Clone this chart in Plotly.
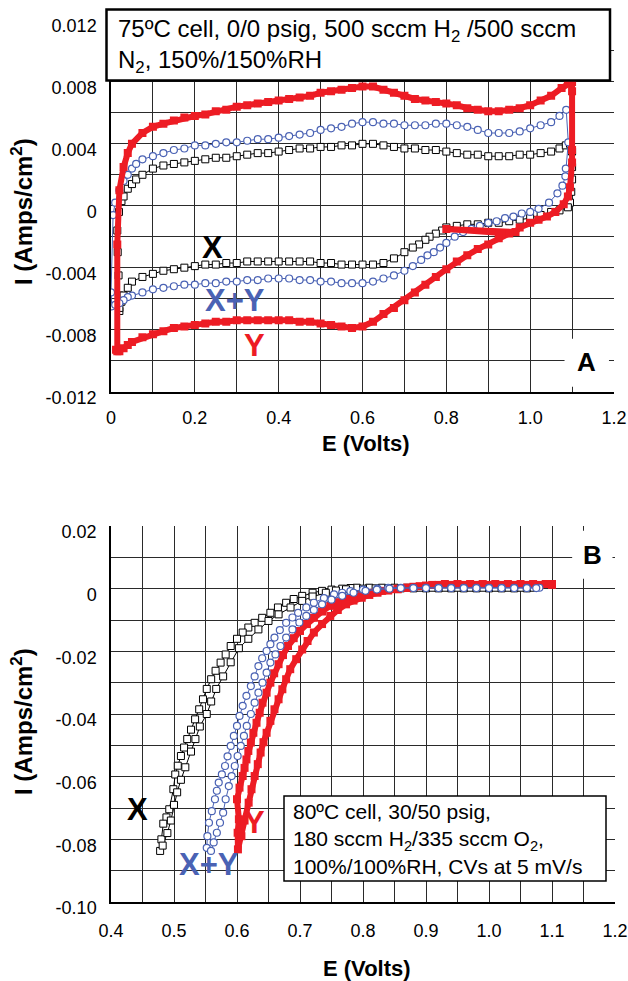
import plotly.graph_objects as go

# ---------------- Panel A data (E in V, I in A/cm2) ----------------
a_x_E = [0.02, 0.02, 0.018, 0.016, 0.015, 0.019, 0.025, 0.03, 0.04, 0.05, 0.06, 0.075, 0.1, 0.125, 0.15, 0.175,
         0.2, 0.225, 0.25, 0.275, 0.3, 0.325, 0.35, 0.375, 0.4, 0.425, 0.45, 0.475, 0.5, 0.525, 0.55, 0.575,
         0.6, 0.625, 0.65, 0.675, 0.7, 0.725, 0.75, 0.775, 0.8, 0.825, 0.85, 0.875, 0.9, 0.925, 0.95, 0.975,
         1.0, 1.025, 1.05, 1.07, 1.085, 1.095, 1.1, 1.1, 1.1, 1.098, 1.095, 1.09, 1.07, 1.05, 1.025, 1.0,
         0.975, 0.95, 0.925, 0.9, 0.875, 0.85, 0.825, 0.8, 0.79, 0.775, 0.76, 0.75, 0.735, 0.72, 0.7, 0.675,
         0.65, 0.625, 0.6, 0.575, 0.55, 0.525, 0.5, 0.475, 0.45, 0.425, 0.4, 0.375, 0.35, 0.325, 0.3, 0.275,
         0.25, 0.225, 0.2, 0.175, 0.15, 0.125, 0.1, 0.075, 0.05, 0.04, 0.03, 0.025, 0.02]
a_x_I = [-0.0068, -0.0058, -0.0045, -0.0030, -0.0016, -0.0004, 0.0003, 0.0006, 0.0011, 0.0014, 0.0017, 0.0020,
         0.0024, 0.0026, 0.0027, 0.0028, 0.0029, 0.0030, 0.0031, 0.0031, 0.0032, 0.0033, 0.0034, 0.0034, 0.0035,
         0.0036, 0.0037, 0.0037, 0.0038, 0.0038, 0.0039, 0.0039, 0.0040, 0.0040, 0.0039, 0.0038, 0.0037, 0.0037,
         0.0036, 0.0036, 0.0035, 0.0034, 0.0033, 0.0033, 0.0032, 0.0032, 0.0032, 0.0033, 0.0033, 0.0034, 0.0035,
         0.0037, 0.0039, 0.0040, 0.0035, 0.0025, 0.0017, 0.0009, 0.0002, -0.0001, -0.0003, -0.0004, -0.0006,
         -0.0008, -0.0009, -0.0010, -0.0011, -0.0011, -0.0012, -0.0012, -0.0013, -0.0014, -0.0016, -0.0018,
         -0.0020, -0.0022, -0.0025, -0.0027, -0.0030, -0.0034, -0.0037, -0.0038, -0.0038, -0.0038, -0.0038,
         -0.0037, -0.0037, -0.0036, -0.0036, -0.0036, -0.0036, -0.0036, -0.0036, -0.0036, -0.0037, -0.0037,
         -0.0038, -0.0038, -0.0039, -0.0040, -0.0041, -0.0042, -0.0044, -0.0046, -0.0049, -0.0053, -0.0058,
         -0.0062, -0.0066]

a_xy_E = [0.002, 0.0, 0.005, 0.01, 0.02, 0.03, 0.04, 0.05, 0.06, 0.075, 0.1, 0.125, 0.15, 0.175, 0.2, 0.225,
          0.25, 0.275, 0.3, 0.325, 0.35, 0.375, 0.4, 0.425, 0.45, 0.475, 0.5, 0.525, 0.55, 0.575, 0.6, 0.625,
          0.65, 0.675, 0.7, 0.725, 0.75, 0.775, 0.8, 0.825, 0.85, 0.875, 0.9, 0.925, 0.95, 0.975, 1.0, 1.025,
          1.05, 1.07, 1.086, 1.091, 1.085, 1.084, 1.077, 1.065, 1.045, 1.02, 1.0, 0.98, 0.96, 0.94, 0.92, 0.9,
          0.88, 0.86, 0.84, 0.82, 0.8, 0.785, 0.77, 0.755, 0.74, 0.72, 0.7, 0.675, 0.65, 0.625, 0.6, 0.575,
          0.55, 0.525, 0.5, 0.475, 0.45, 0.425, 0.4, 0.375, 0.35, 0.325, 0.3, 0.275, 0.25, 0.225, 0.2, 0.175,
          0.15, 0.125, 0.1, 0.075, 0.05, 0.04, 0.03, 0.02, 0.01]
a_xy_I = [-0.0065, -0.0056, -0.0006, 0.0002, 0.0010, 0.0016, 0.0020, 0.0024, 0.0027, 0.0030, 0.0032, 0.0034,
          0.0036, 0.0037, 0.0039, 0.0039, 0.0040, 0.0041, 0.0041, 0.0042, 0.0043, 0.0043, 0.0044, 0.0045, 0.0046,
          0.0047, 0.0049, 0.0050, 0.0051, 0.0053, 0.0054, 0.0054, 0.0053, 0.0053, 0.0052, 0.0052, 0.0052, 0.0053,
          0.0053, 0.0052, 0.0051, 0.0049, 0.0047, 0.0047, 0.0047, 0.0048, 0.0050, 0.0052, 0.0054, 0.0058, 0.0062,
          0.0041, 0.0024, 0.0019, 0.0013, 0.0008, 0.0002, -0.0002, -0.0004, -0.0005, -0.0007, -0.0008, -0.0010,
          -0.0011, -0.0013, -0.0015, -0.0017, -0.0020, -0.0024, -0.0027, -0.0030, -0.0032, -0.0035, -0.0039,
          -0.0042, -0.0045, -0.0047, -0.0049, -0.0050, -0.0050, -0.0050, -0.0049, -0.0049, -0.0048, -0.0048,
          -0.0047, -0.0047, -0.0047, -0.0048, -0.0048, -0.0049, -0.0049, -0.0050, -0.0050, -0.0051, -0.0051,
          -0.0052, -0.0053, -0.0054, -0.0056, -0.0058, -0.0059, -0.0061, -0.0063, -0.0064]

a_y_E = [0.015, 0.015, 0.02, 0.03, 0.04, 0.05, 0.075, 0.1, 0.125, 0.15, 0.175, 0.2, 0.225, 0.25, 0.275, 0.3,
         0.325, 0.35, 0.375, 0.4, 0.425, 0.45, 0.475, 0.5, 0.525, 0.55, 0.575, 0.6, 0.625, 0.65, 0.675, 0.7,
         0.725, 0.75, 0.775, 0.8, 0.825, 0.85, 0.875, 0.9, 0.925, 0.95, 0.975, 1.0, 1.025, 1.05, 1.075, 1.09,
         1.1, 1.1, 1.1, 1.1, 1.095, 1.09, 1.08, 1.06, 1.04, 1.02, 1.0, 0.975, 0.965, 0.8, 0.95, 0.925, 0.9,
         0.875, 0.85, 0.825, 0.8, 0.775, 0.75, 0.725, 0.7, 0.675, 0.65, 0.625, 0.6, 0.575, 0.55, 0.525, 0.5,
         0.475, 0.45, 0.425, 0.4, 0.375, 0.35, 0.325, 0.3, 0.275, 0.25, 0.225, 0.2, 0.175, 0.15, 0.125, 0.1,
         0.075, 0.05, 0.04, 0.03, 0.02, 0.012]
a_y_I = [-0.0094, -0.0025, 0.0010, 0.0025, 0.0034, 0.0040, 0.0047, 0.0051, 0.0053, 0.0055, 0.0057, 0.0058,
         0.0059, 0.0061, 0.0062, 0.0064, 0.0065, 0.0066, 0.0067, 0.0068, 0.0069, 0.0070, 0.0071, 0.0073, 0.0074,
         0.0075, 0.0076, 0.0077, 0.0077, 0.0075, 0.0073, 0.0071, 0.0069, 0.0068, 0.0067, 0.0066, 0.0065, 0.0063,
         0.0062, 0.0061, 0.0061, 0.0062, 0.0063, 0.0065, 0.0068, 0.0071, 0.0076, 0.0079, 0.0080, 0.0074, 0.0036,
         0.0028, 0.0012, 0.0006, 0.0001, -0.0004, -0.0007, -0.0009, -0.0011, -0.0014, -0.0017, -0.0015, -0.0018,
         -0.0021, -0.0025, -0.0028, -0.0032, -0.0036, -0.0041, -0.0046, -0.0051, -0.0056, -0.0061, -0.0066,
         -0.0070, -0.0075, -0.0078, -0.0079, -0.0078, -0.0077, -0.0076, -0.0075, -0.0075, -0.0074, -0.0074,
         -0.0074, -0.0074, -0.0074, -0.0074, -0.0075, -0.0075, -0.0076, -0.0077, -0.0078, -0.0079, -0.0081,
         -0.0083, -0.0085, -0.0088, -0.0090, -0.0092, -0.0094, -0.0093]

# ---------------- Panel B data ----------------
b_x_E = [1.07, 1.05, 1.03, 1.01, 0.99, 0.97, 0.95, 0.93, 0.91, 0.89, 0.87, 0.85, 0.83, 0.81, 0.79,
         0.78, 0.767, 0.75, 0.735, 0.72, 0.7035, 0.69, 0.678, 0.665, 0.653, 0.64, 0.628, 0.618, 0.609, 0.60,
         0.59, 0.582, 0.574, 0.566, 0.559, 0.552, 0.546, 0.54, 0.5335, 0.527, 0.521, 0.516, 0.511, 0.506,
         0.502, 0.499, 0.4925, 0.488, 0.483, 0.480, 0.478,
         0.482, 0.4895, 0.495, 0.500, 0.505, 0.511, 0.518, 0.527, 0.534, 0.541, 0.552, 0.559, 0.567, 0.578,
         0.590, 0.603, 0.618, 0.634, 0.650, 0.666, 0.685, 0.7035, 0.72, 0.741, 0.757, 0.773, 0.80,
         0.82, 0.84, 0.86, 0.88, 0.90, 0.92, 0.94, 0.96, 0.98, 1.00, 1.02, 1.04, 1.06]
b_x_I = [0.0003, 0.0003, 0.0003, 0.0003, 0.0003, 0.0003, 0.0003, 0.0003, 0.0003, 0.0003, 0.0003, 0.0003,
         0.0003, 0.0003, 0.0003,
         0.0002, 0.0, -0.0003, -0.0007, -0.0013, -0.0023, -0.0033, -0.0045, -0.0060, -0.0077, -0.0093, -0.0109,
         -0.0124, -0.0140, -0.0160, -0.0183, -0.0210, -0.0236, -0.0262, -0.0289, -0.0320, -0.0353, -0.0385,
         -0.0417, -0.0450, -0.0480, -0.0507, -0.0534, -0.0565, -0.0593, -0.0640, -0.0704, -0.0730, -0.0750,
         -0.0800, -0.0837,
         -0.0820, -0.0780, -0.0740, -0.0690, -0.0650, -0.0610, -0.0570, -0.0520, -0.0480, -0.0440, -0.0400,
         -0.0360, -0.0320, -0.0280, -0.0235, -0.0190, -0.0160, -0.0130, -0.0103, -0.0082, -0.0060, -0.0039,
         -0.0025, -0.0013, -0.0006, -0.0002, 0.0,
         0.0001, 0.0001, 0.0001, 0.0001, 0.0001, 0.0001, 0.0001, 0.0001, 0.0001, 0.0001, 0.0001, 0.0001, 0.0001]

b_xy_E = [1.08, 1.06, 1.04, 1.02, 1.0, 0.98, 0.96, 0.94, 0.92, 0.90, 0.88, 0.86, 0.84,
          0.823, 0.80, 0.78, 0.767, 0.754, 0.738, 0.722, 0.71, 0.697, 0.688, 0.678, 0.668, 0.6595, 0.653, 0.647,
          0.640, 0.634, 0.628, 0.622, 0.615, 0.609, 0.604, 0.600, 0.595, 0.590, 0.585, 0.581, 0.576, 0.571,
          0.568, 0.565, 0.560, 0.5555, 0.553, 0.552, 0.5587,
          0.563, 0.568, 0.573, 0.578, 0.582, 0.587, 0.5915, 0.5965, 0.601, 0.606, 0.611, 0.6155, 0.622, 0.628,
          0.634, 0.6405, 0.647, 0.653, 0.661, 0.669, 0.678, 0.688, 0.699, 0.710, 0.722, 0.735, 0.750, 0.767,
          0.785, 0.804, 0.822, 0.842, 0.86, 0.88, 0.90, 0.92, 0.94, 0.96, 0.98, 1.00, 1.02, 1.04, 1.06, 1.075]
b_xy_I = [0.0003, 0.0003, 0.0003, 0.0003, 0.0003, 0.0003, 0.0003, 0.0003, 0.0003, 0.0003, 0.0003, 0.0003,
          0.0003,
          0.0, -0.0003, -0.0008, -0.0013, -0.0018, -0.0030, -0.0045, -0.0060, -0.0077, -0.0092, -0.0109,
          -0.0132, -0.0156, -0.0177, -0.0199, -0.0222, -0.0247, -0.0280, -0.0311, -0.0342, -0.0374, -0.0406,
          -0.0438, -0.0470, -0.0502, -0.0535, -0.0566, -0.0593, -0.0619, -0.0645, -0.0672, -0.0710, -0.0747,
          -0.0790, -0.0827, -0.0837,
          -0.0810, -0.0779, -0.0747, -0.0715, -0.0672, -0.0630, -0.0598, -0.0566, -0.0534, -0.0502, -0.0470,
          -0.0438, -0.0400, -0.0364, -0.0332, -0.0300, -0.0268, -0.0236, -0.0210, -0.0183, -0.0156, -0.0130,
          -0.0108, -0.0087, -0.0068, -0.0050, -0.0035, -0.0023, -0.0013, -0.0007, -0.0003, 0.0,
          0.0002, 0.0002, 0.0002, 0.0002, 0.0002, 0.0002, 0.0002, 0.0002, 0.0002, 0.0002, 0.0002, 0.0002]

b_y_E = [1.1, 1.08, 1.06, 1.04, 1.02, 1.0, 0.98, 0.96, 0.94, 0.92, 0.90, 0.88, 0.87,
         0.855, 0.83, 0.81, 0.798, 0.785, 0.773, 0.76, 0.748, 0.735, 0.722, 0.711, 0.70, 0.690, 0.681, 0.673,
         0.666, 0.659, 0.653, 0.647, 0.6405, 0.636, 0.631, 0.626, 0.622, 0.618, 0.615, 0.612, 0.609, 0.604,
         0.600, 0.603, 0.601, 0.6015,
         0.607, 0.612, 0.6185, 0.623, 0.628, 0.633, 0.6375, 0.642, 0.647, 0.653, 0.6595, 0.666, 0.672, 0.678,
         0.6845, 0.694, 0.7035, 0.712, 0.722, 0.735, 0.748, 0.760, 0.773, 0.785, 0.798, 0.81, 0.823, 0.84,
         0.855, 0.87, 0.89, 0.91, 0.93, 0.95, 0.97, 0.99, 1.01, 1.03, 1.05, 1.07, 1.09, 1.1]
b_y_I = [0.0012, 0.0012, 0.0012, 0.0012, 0.0012, 0.0012, 0.0012, 0.0012, 0.0012, 0.0012, 0.0010, 0.0006,
         0.0003,
         0.0, -0.0007, -0.0013, -0.0018, -0.0025, -0.0032, -0.0043, -0.0055, -0.0073, -0.0093, -0.0113,
         -0.0135, -0.0158, -0.0183, -0.0212, -0.0241, -0.0270, -0.0300, -0.0332, -0.0364, -0.0396, -0.0428,
         -0.0460, -0.0491, -0.0518, -0.0545, -0.0572, -0.0598, -0.0635, -0.0672, -0.0736, -0.0779, -0.0832,
         -0.0790, -0.0740, -0.0683, -0.0640, -0.0598, -0.0560, -0.0523, -0.0490, -0.0460, -0.0422, -0.0385,
         -0.0353, -0.0321, -0.0289, -0.0257, -0.0225, -0.0194, -0.0167, -0.0140, -0.0113, -0.0087, -0.0068,
         -0.0050, -0.0038, -0.0029, -0.0020, -0.0013, -0.0006, -0.0002, 0.0003,
         0.0008, 0.0012, 0.0015, 0.0015, 0.0015, 0.0015, 0.0015, 0.0015, 0.0015, 0.0015, 0.0015, 0.0015]

# ---------------- Ticks (labelled) and extra grid positions ----------------
a_xtickvals = [0.0, 0.2, 0.4, 0.6, 0.8, 1.0, 1.2]
a_xticktext = ["0", "0.2", "0.4", "0.6", "0.8", "1.0", "1.2"]
a_xgrid_minor = [0.1, 0.3, 0.5, 0.7, 0.9, 1.1]
a_ytickvals = [-0.012, -0.008, -0.004, 0.0, 0.004, 0.008, 0.012]
a_yticktext = ["-0.012", "-0.008", "-0.004", "0", "0.004", "0.008", "0.012"]
a_ygrid_minor = [-0.010, -0.006, -0.002, 0.002, 0.006, 0.010]
b_xtickvals = [0.4, 0.5, 0.6, 0.7, 0.8, 0.9, 1.0, 1.1, 1.2]
b_xticktext = ["0.4", "0.5", "0.6", "0.7", "0.8", "0.9", "1.0", "1.1", "1.2"]
b_xgrid_minor = [0.45, 0.55, 0.65, 0.75, 0.85, 0.95, 1.05, 1.15]
b_ytickvals = [-0.10, -0.08, -0.06, -0.04, -0.02, 0.0, 0.02]
b_yticktext = ["-0.10", "-0.08", "-0.06", "-0.04", "-0.02", "0", "0.02"]
b_ygrid_minor = [-0.09, -0.07, -0.05, -0.03, -0.01, 0.01]

W, H = 628, 981
def px(x):
    return x / W
def py(y):
    return 1 - y / H

RED = "#ED1C24"
BLUE = "#4A62B4"
FONT = "Liberation Sans, Arial, sans-serif"

fig = go.Figure()

def add_series(E, I, kind, xa, ya, size):
    if kind == "X":
        fig.add_trace(go.Scatter(x=E, y=I, mode="lines+markers", xaxis=xa, yaxis=ya,
                                 line=dict(color="black", width=1),
                                 marker=dict(symbol="square", size=size, color="white",
                                             line=dict(color="black", width=1))))
    elif kind == "XY":
        fig.add_trace(go.Scatter(x=E, y=I, mode="lines+markers", xaxis=xa, yaxis=ya,
                                 line=dict(color=BLUE, width=1),
                                 marker=dict(symbol="circle", size=size, color="white",
                                             line=dict(color=BLUE, width=1.2))))
    else:
        fig.add_trace(go.Scatter(x=E, y=I, mode="lines+markers", xaxis=xa, yaxis=ya,
                                 line=dict(color=RED, width=6),
                                 marker=dict(symbol="square", size=size, color=RED,
                                             line=dict(width=0))))

add_series(a_x_E, a_x_I, "X", "x", "y", 7)
add_series(a_xy_E, a_xy_I, "XY", "x", "y", 7)
add_series(a_y_E, a_y_I, "Y", "x", "y", 8)
add_series(b_x_E, b_x_I, "X", "x2", "y2", 7)
add_series(b_y_E, b_y_I, "Y", "x2", "y2", 8)
add_series(b_xy_E, b_xy_I, "XY", "x2", "y2", 7)

GRID = "#2a2a2a"
def axis(domain, rng, anchor, tv, tt, minor_vals, standoff, shift=0):
    return dict(domain=domain, range=rng, anchor=anchor, automargin=False,
                showgrid=True, gridcolor=GRID, gridwidth=1, zeroline=False, showline=True,
                linecolor="black", linewidth=1.5, ticks="", tickmode="array",
                tickvals=tv, ticktext=tt, ticklabelstandoff=standoff, ticklabelshift=shift,
                ticklabeloverflow="allow",
                minor=dict(tickmode="array", tickvals=minor_vals, showgrid=True,
                           gridcolor=GRID, gridwidth=1, ticks=""),
                tickfont=dict(family=FONT, size=18, color="black"), mirror=False)

fig.update_layout(
    width=W, height=H, margin=dict(l=0, r=0, t=0, b=0, autoexpand=False),
    paper_bgcolor="white", plot_bgcolor="white", showlegend=False,
    xaxis=axis([px(111), px(614)], [0, 1.2], "y", a_xtickvals, a_xticktext, a_xgrid_minor, 9),
    yaxis=axis([py(391.5), py(20)], [-0.012, 0.012], "x", a_ytickvals, a_yticktext, a_ygrid_minor, 9, 6),
    xaxis2=axis([px(111), px(615)], [0.4, 1.2000001], "y2", b_xtickvals, b_xticktext, b_xgrid_minor, 12),
    yaxis2=axis([py(902), py(526)], [-0.10, 0.02], "x2", b_ytickvals, b_yticktext, b_ygrid_minor, 9, 6),
)

shapes = [
    dict(type="rect", xref="paper", yref="paper", x0=px(106.5), x1=px(610), y0=py(80.5), y1=py(9.5),
         fillcolor="white", line=dict(color="black", width=2.5), layer="above"),
    dict(type="rect", xref="x", yref="y", x0=1.082, x1=1.188, y0=-0.0117, y1=-0.0086,
         fillcolor="white", line=dict(width=0), layer="above"),
    dict(type="rect", xref="x2", yref="y2", x0=1.132, x1=1.196, y0=0.0032, y1=0.0185,
         fillcolor="white", line=dict(width=0), layer="above"),
    dict(type="rect", xref="paper", yref="paper", x0=px(284), x1=px(606), y0=py(881), y1=py(796),
         fillcolor="white", line=dict(color="black", width=1.5), layer="above"),
]
fig.update_layout(shapes=shapes)

ann = []
def txt(text, x, y, size, color="black", bold=False, xanchor="center", yanchor="middle",
        xref="paper", yref="paper", angle=0, align="center"):
    t = f"<b>{text}</b>" if bold else text
    ann.append(dict(text=t, x=x, y=y, xref=xref, yref=yref, showarrow=False, xanchor=xanchor,
                    yanchor=yanchor, textangle=angle, align=align,
                    font=dict(family=FONT, size=size, color=color)))

txt("75ºC cell, 0/0 psig, 500 sccm H<sub>2</sub> /500 sccm<br>N<sub>2</sub>, 150%/150%RH",
    px(116), py(46), 24, xanchor="left", align="left")
txt("80ºC cell, 30/50 psig,<br>180 sccm H<sub>2</sub>/335 sccm O<sub>2</sub>,<br>100%/100%RH, CVs at 5 mV/s",
    px(291), py(839), 21, xanchor="left", align="left")

txt("E (Volts)", px(366), py(443), 22, bold=True)
txt("E (Volts)", px(367), py(968), 22, bold=True)
txt("I (Amps/cm<sup>2</sup>)", px(22), py(212), 24, bold=True, angle=-90)
txt("I (Amps/cm<sup>2</sup>)", px(22), py(722), 24, bold=True, angle=-90)

txt("A", 1.135, -0.0101, 26, bold=True, xref="x", yref="y")
txt("B", 1.164, 0.0108, 26, bold=True, xref="x2", yref="y2")

txt("X", 0.243, -0.0027, 31, bold=True, xref="x", yref="y")
txt("X+Y", 0.295, -0.0061, 31, color=BLUE, bold=True, xref="x", yref="y")
txt("Y", 0.343, -0.0090, 31, color=RED, bold=True, xref="x", yref="y")

txt("X", 0.442, -0.0704, 31, bold=True, xref="x2", yref="y2")
txt("X+Y", 0.5555, -0.0880, 31, color=BLUE, bold=True, xref="x2", yref="y2")
txt("Y", 0.627, -0.0747, 31, color=RED, bold=True, xref="x2", yref="y2")

fig.update_layout(annotations=ann)
fig.write_html("out.html", config={"displayModeBar": False},
               post_script="document.body.style.margin='0';document.body.style.overflow='hidden';")
